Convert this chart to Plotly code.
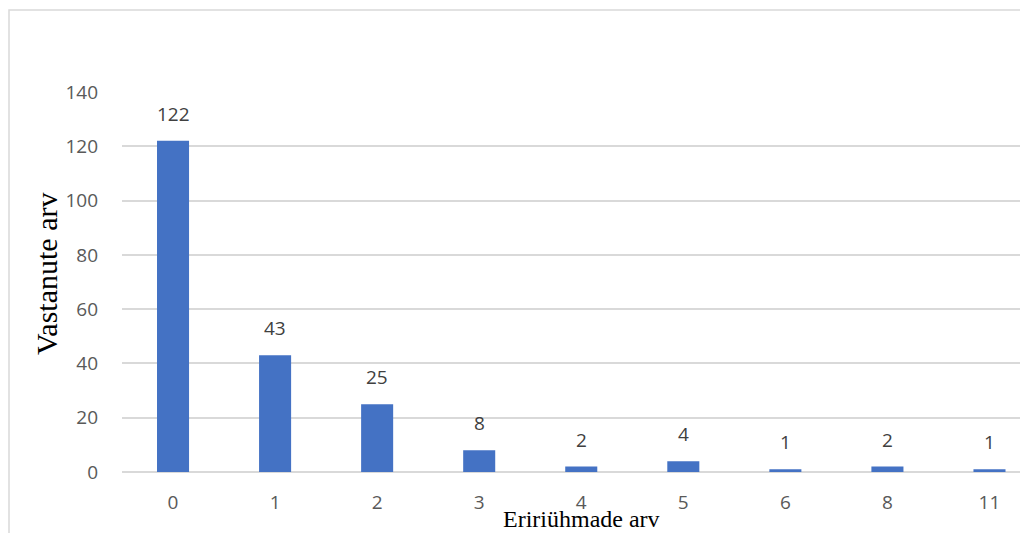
import plotly.graph_objects as go

categories = ["0", "1", "2", "3", "4", "5", "6", "8", "11"]
values = [122, 43, 25, 8, 2, 4, 1, 2, 1]
y_ticks = [0, 20, 40, 60, 80, 100, 120, 140]

x_title = "Eririühmade arv"
y_title = "Vastanute arv"

BAR = "#4472C4"
GRID = "#d9d9d9"

# page body has an 8px margin; work in screen pixels minus that offset
OFF = 8
FW, FH = 1028 - OFF, 533 - OFF

fig = go.Figure(
    go.Bar(
        x=categories,
        y=values,
        marker=dict(color=BAR, line=dict(width=0)),
        hoverinfo="x+y",
    )
)

for i, v in enumerate(values):
    fig.add_annotation(
        x=i, y=v, xref="x", yref="y",
        text=str(v), showarrow=False,
        yanchor="bottom", yshift=12,
        font=dict(family="Open Sans", size=19, color="#404040"),
    )

L, T, W, H = 122 - OFF, 92 - OFF, 906, 380  # plot area in figure pixels

fig.add_annotation(
    x=(581 - OFF - L) / W, y=(T + H - (519 - OFF)) / H, xref="paper", yref="paper",
    text=x_title, showarrow=False, xanchor="center", yanchor="middle",
    font=dict(family="Liberation Serif", size=24, color="#000000"),
)
fig.add_annotation(
    x=(46 - OFF - L) / W, y=(T + H - (274 - OFF)) / H, xref="paper", yref="paper",
    text=y_title, showarrow=False, textangle=-90, xanchor="center", yanchor="middle",
    font=dict(family="Liberation Serif", size=30, color="#000000"),
)

fig.add_shape(
    type="rect", xref="paper", yref="paper",
    x0=(9 - OFF - L) / W, x1=1.2, y0=-0.5, y1=(T + H - (10 - OFF)) / H,
    line=dict(color=GRID, width=1.5), fillcolor="rgba(0,0,0,0)", layer="below",
)

fig.update_layout(
    width=FW, height=FH,
    margin=dict(l=L, r=FW - L - W, t=T, b=FH - T - H, pad=0),
    paper_bgcolor="white", plot_bgcolor="white",
    bargap=0.686,
    showlegend=False,
    xaxis=dict(
        type="category",
        range=[-0.5, (1028 - 173) / 102.06],
        showgrid=False, zeroline=False, showline=False,
        ticks="", ticklabelstandoff=17,
        tickfont=dict(family="Open Sans", size=19, color="#595959"),
    ),
    yaxis=dict(
        range=[0, 140], tickvals=y_ticks,
        showgrid=True, gridcolor=GRID, gridwidth=1.5,
        zeroline=True, zerolinecolor=GRID, zerolinewidth=1.5,
        showline=False, ticks="", ticklabelstandoff=23,
        tickfont=dict(family="Open Sans", size=19, color="#595959"),
    ),
)

fig.write_html("out.html")
